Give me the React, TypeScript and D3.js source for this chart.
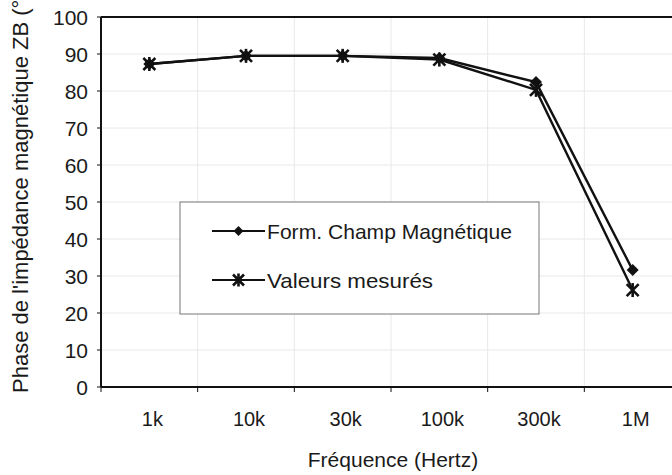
import React from "react";
import * as d3 from "d3";

const categories = ["1k", "10k", "30k", "100k", "300k", "1M"];
const formChamp = [87.3, 89.5, 89.5, 88.9, 82.4, 31.6];
const mesures = [87.3, 89.5, 89.5, 88.5, 80.3, 26.2];
const yTicks = [0, 10, 20, 30, 40, 50, 60, 70, 80, 90, 100];
const seriesNames = ["Form. Champ Magnétique", "Valeurs mesurés"];

const W = 672;
const H = 475;
const left = 101;
const right = 681;
const top = 17;
const bottom = 387;
const font = "Liberation Sans, Arial, sans-serif";

function Diamond({ x, y, r = 6 }: { x: number; y: number; r?: number }) {
  return <path d={`M${x},${y - r}L${x + r},${y}L${x},${y + r}L${x - r},${y}Z`} fill="#111" />;
}

function Star({ x, y, r = 6 }: { x: number; y: number; r?: number }) {
  return (
    <g stroke="#111" strokeWidth={2.6}>
      <line x1={x - r} y1={y - r} x2={x + r} y2={y + r} />
      <line x1={x - r} y1={y + r} x2={x + r} y2={y - r} />
      <line x1={x} y1={y - r - 1} x2={x} y2={y + r + 1} />
    </g>
  );
}

export default function App() {
  const x = d3.scaleBand<string>().domain(categories).range([left, right]).padding(0);
  const y = d3.scaleLinear().domain([0, 100]).range([bottom, top]);
  const cx = (c: string) => (x(c) as number) + x.bandwidth() / 2;
  const line = d3
    .line<number>()
    .x((_, i) => cx(categories[i]))
    .y((v) => y(v));

  const boundaries = categories.map((c) => x(c) as number);

  return (
    <svg
      width={W}
      height={H}
      style={{ position: "absolute", left: 0, top: 0, background: "#fff" }}
      fontFamily={font}
    >
      <rect x={0} y={0} width={W} height={H} fill="#fff" />
      {/* gridlines */}
      {yTicks.slice(1, -1).map((t) => (
        <line key={"hg" + t} x1={left} x2={right} y1={y(t)} y2={y(t)} stroke="#e8e8e8" strokeWidth={1} />
      ))}
      {boundaries.slice(1).map((b, i) => (
        <line key={"vg" + i} x1={b} x2={b} y1={top} y2={bottom} stroke="#e8e8e8" strokeWidth={1} />
      ))}
      {/* frame */}
      <line x1={left} x2={right} y1={top} y2={top} stroke="#111" strokeWidth={2} />
      <line x1={left} x2={right} y1={bottom} y2={bottom} stroke="#111" strokeWidth={2} />
      <line x1={left} x2={left} y1={top} y2={bottom} stroke="#111" strokeWidth={2} />
      {/* y ticks */}
      {yTicks.map((t) => (
        <g key={"yt" + t}>
          <line x1={left - 4} x2={left} y1={y(t)} y2={y(t)} stroke="#111" strokeWidth={1} />
          <text x={88} y={y(t)} dy="0.36em" textAnchor="end" fontSize={21} fill="#1a1a1a">
            {t}
          </text>
        </g>
      ))}
      {/* x ticks */}
      {boundaries.map((b, i) => (
        <line key={"xt" + i} x1={b} x2={b} y1={bottom} y2={bottom + 5} stroke="#111" strokeWidth={1} />
      ))}
      {categories.map((c) => (
        <text key={"xl" + c} x={cx(c) + 3} y={426} textAnchor="middle" fontSize={20} fill="#1a1a1a">
          {c}
        </text>
      ))}
      {/* axis titles */}
      <text x={393} y={467} textAnchor="middle" fontSize={21} fill="#1a1a1a">
        Fréquence (Hertz)
      </text>
      <text
        transform={`translate(28,393) rotate(-90)`}
        textAnchor="start"
        fontSize={22}
        fill="#1a1a1a"
      >
        Phase de l'impédance magnétique ZB (°)
      </text>
      {/* series */}
      <path d={line(formChamp) || ""} fill="none" stroke="#111" strokeWidth={2.4} />
      <path d={line(mesures) || ""} fill="none" stroke="#111" strokeWidth={2.4} />
      {formChamp.map((v, i) => (
        <Diamond key={"d" + i} x={cx(categories[i])} y={y(v)} />
      ))}
      {mesures.map((v, i) => (
        <Star key={"s" + i} x={cx(categories[i])} y={y(v)} />
      ))}
      {/* legend */}
      <rect x={180} y={202} width={359} height={112} fill="#fff" stroke="#777" strokeWidth={1} />
      <line x1={212} x2={265} y1={231} y2={231} stroke="#111" strokeWidth={2.2} />
      <Diamond x={238.5} y={231} r={5} />
      <text x={267} y={231} dy="0.36em" fontSize={21} fill="#1a1a1a" textLength={245} lengthAdjust="spacingAndGlyphs">
        {seriesNames[0]}
      </text>
      <line x1={212} x2={265} y1={280} y2={280} stroke="#111" strokeWidth={2.2} />
      <Star x={238.5} y={280} r={5.5} />
      <text x={267} y={280} dy="0.36em" fontSize={21} fill="#1a1a1a" textLength={166} lengthAdjust="spacingAndGlyphs">
        {seriesNames[1]}
      </text>
    </svg>
  );
}
